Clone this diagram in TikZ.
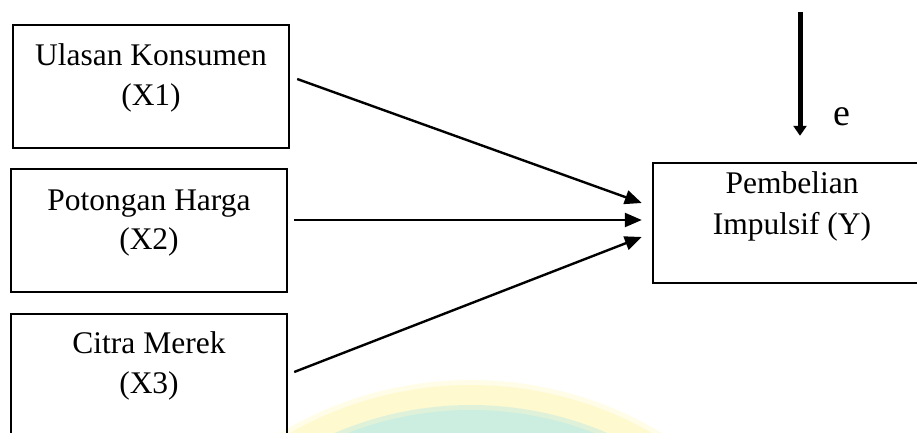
\documentclass[tikz,border=0pt]{standalone}
\usepackage{fontspec}
\setmainfont{Liberation Serif}
\usetikzlibrary{arrows.meta}

\definecolor{markyellow}{RGB}{255,249,208}
\definecolor{markcyan}{RGB}{203,238,224}

\tikzset{
  varbox/.style={draw=black, line width=2.4pt, rectangle, inner sep=0pt,
                 minimum width=276pt, minimum height=123pt},
  label/.style={anchor=base, inner sep=0pt,
                font=\fontsize{31.5}{40}\selectfont},
  link/.style={line width=2.4pt, -{Triangle[length=17pt,width=14pt]}},
  errlink/.style={line width=5pt, -{Triangle[length=10pt,width=13pt]}}
}

\begin{document}
\begin{tikzpicture}[x=1pt, y=-1pt]
  \useasboundingbox (0,0) rectangle (917,433);

  % faint emblem behind the lower part of the diagram
  \begin{scope}
    \clip (0,0) rectangle (917,433);
    \fill[markyellow, opacity=0.5] (471,750) circle (370);
    \fill[markyellow] (471,750) circle (365);
    \fill[markcyan, opacity=0.6] (471,750) circle (345);
    \fill[markcyan] (471,750) circle (340);
  \end{scope}

  % independent variables
  \node[varbox] (x1) at (151,86.5) {};
  \node[label] (x1a) at (151,66) {Ulasan Konsumen};
  \node[label] (x1b) at (151,106) {(X1)};

  \node[varbox] (x2) at (149,230.5) {};
  \node[label] (x2a) at (149,210) {Potongan Harga};
  \node[label] (x2b) at (149,249) {(X2)};

  \node[varbox] (x3) at (149,375.5) {};
  \node[label] (x3a) at (149,353) {Citra Merek};
  \node[label] (x3b) at (149,393) {(X3)};

  % dependent variable
  \node[varbox, minimum width=278pt, minimum height=120pt] (y) at (792,223) {};
  \node[label] (ya) at (792,193) {Pembelian};
  \node[label] (yb) at (792,234) {Impulsif (Y)};

  % paths into the dependent variable
  \draw[link] ([shift={(7,-7.5)}]x1.east) -- ([shift={(-10,-20)}]y.west);
  \draw[link] ([shift={(6,-10.5)}]x2.east) -- ([shift={(-10,-3)}]y.west);
  \draw[link] ([shift={(6,-3.5)}]x3.east) -- ([shift={(-10,14)}]y.west);

  % error term
  \coordinate (etop) at (800,12);
  \draw[errlink] (etop) -- ([shift={(8,-26)}]y.north);
  \node[anchor=base, inner sep=0pt, font=\fontsize{38}{44}\selectfont] (e) at (842,125) {e};
\end{tikzpicture}
\end{document}
